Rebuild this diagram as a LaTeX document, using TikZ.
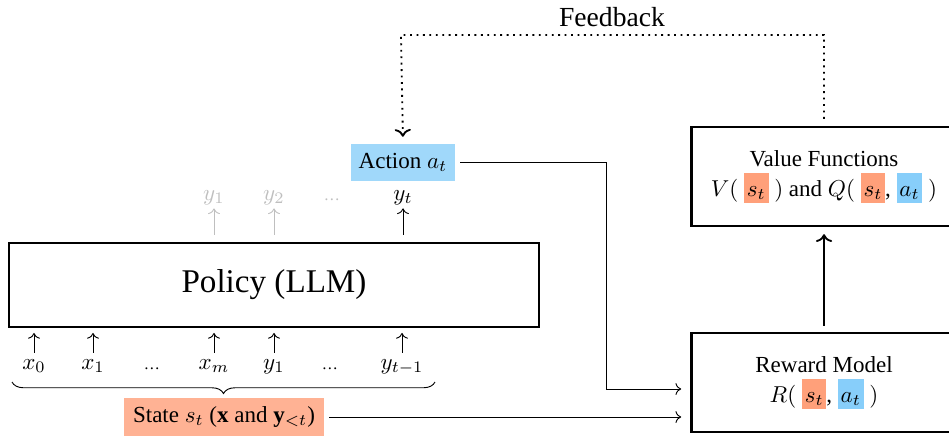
\documentclass[tikz,border=0pt]{standalone}
\usepackage{fontspec}
\setmainfont{Liberation Serif}
\usepackage{amsmath}
\usetikzlibrary{arrows.meta, positioning, calc, decorations.pathreplacing}
\definecolor{actblue}{RGB}{160,216,250}
\definecolor{hlblue}{RGB}{135,206,250}
\definecolor{hlsalmon}{RGB}{255,160,122}
\definecolor{statesalmon}{RGB}{255,178,148}
\newcommand{\hlbox}[2]{{\setlength{\fboxsep}{1.2pt}\colorbox{#1}{\rule{0pt}{9pt}$#2$}}}

\begin{document}
\begin{tikzpicture}[x=0.4348pt, y=-0.4348pt,
    box/.style={draw, very thick, align=center},
    tok/.style={inner sep=1pt, text height=1.2ex, text depth=0.4ex},
    gtok/.style={tok, text=black!25},
    flow/.style={->, shorten <=2pt, shorten >=4pt}]
  \useasboundingbox (0,0) rectangle (949,437);

  % main blocks
  \node[box, minimum width=230.4pt, minimum height=36.5pt, font=\Large] (policy) at (274,285) {Policy (LLM)};
  \node[box, minimum width=115pt, minimum height=43pt] (value) at (824,176.5)
    {Value Functions\\[1pt] $V($ \hlbox{hlsalmon}{s_t} $)$ and $Q($ \hlbox{hlsalmon}{s_t}, \hlbox{hlblue}{a_t} $)$};
  \node[box, minimum width=115pt, minimum height=43pt] (reward) at (824,382.5)
    {Reward Model\\[1pt] $R($ \hlbox{hlsalmon}{s_t}, \hlbox{hlblue}{a_t} $)$};
  \node[fill=actblue, minimum width=45pt, minimum height=16pt] (action) at (403,162.5) {Action $a_t$};
  \node[fill=statesalmon, minimum width=87pt, minimum height=16.5pt] (state) at (224,417) {State $s_t$ ($\mathbf{x}$ and $\mathbf{y}_{<t}$)};

  % input tokens
  \foreach \px/\lab/\nm in {34/x_0/xa, 93/x_1/xb, 214/x_m/xm, 274/y_1/yb, 402/y_{t-1}/yc} {
    \node[tok] (\nm) at (\px,365) {$\lab$};
    \draw[->, shorten <=0.5pt, shorten >=2pt] (\nm.north) -- (\nm.north |- policy.south);
  }
  \node[tok, font=\scriptsize] (ida) at (152,365) {\dots};
  \node[tok, font=\scriptsize] (idb) at (330,365) {\dots};

  % output tokens
  \foreach \px/\lab/\nm in {214/y_1/oa, 274/y_2/ob} {
    \node[gtok] (\nm) at (\px,196) {$\lab$};
    \draw[->, black!25, shorten <=3pt, shorten >=0.5pt] (\nm.south |- policy.north) -- (\nm.south);
  }
  \node[gtok, font=\scriptsize] (od) at (332,196) {\dots};
  \node[tok] (yt) at (403,196) {$y_t$};
  \draw[->, shorten <=3pt, shorten >=0.5pt] (yt.south |- policy.north) -- (yt.south);

  % state brace
  \draw[decorate, decoration={brace, mirror, amplitude=5pt}] (12,382) -- (435,382);

  % connectors
  \coordinate (actbend) at (606,389);
  \draw[flow] (action.east) -| (actbend) -- (actbend -| reward.west);
  \draw[flow] (state.east) -- (state.east -| reward.west);
  \draw[->, thick, shorten <=2.5pt, shorten >=3pt] (reward.north) -- (value.south);

  % feedback loop
  \coordinate (fbr) at (824,35);
  \coordinate (fbl) at (401,35);
  \draw[->, thick, dotted, shorten <=3pt, shorten >=3pt] (value.north) -- (fbr) -- (fbl) -- (action.north);
  \node[font=\large] (fb) at (612,17) {Feedback};
\end{tikzpicture}
\end{document}
